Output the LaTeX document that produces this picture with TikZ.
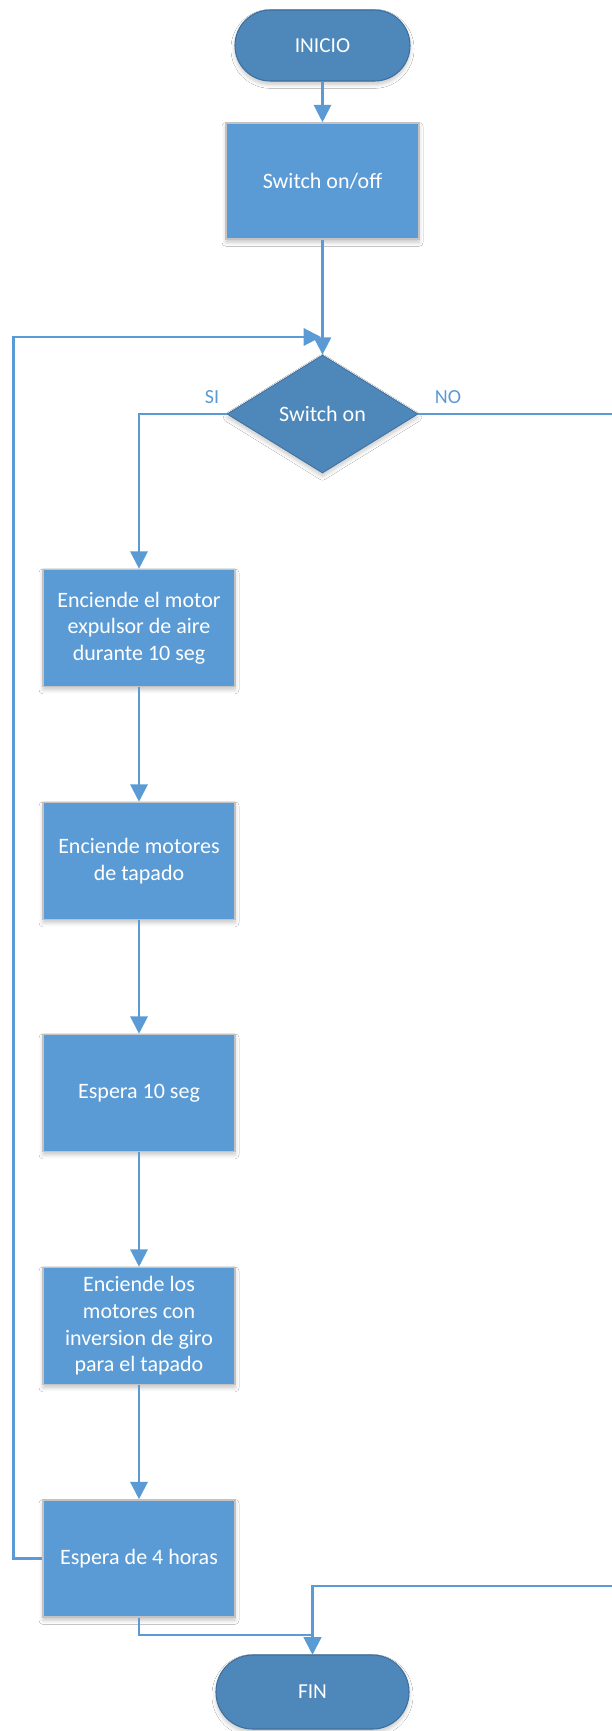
\documentclass[tikz,border=0pt]{standalone}
\usepackage{fontspec}
\setmainfont{Carlito}
\usetikzlibrary{arrows.meta,shapes.geometric,shadows.blur}

\definecolor{termfill}{HTML}{4E87BA}
\definecolor{termline}{HTML}{3E6F9C}
\definecolor{boxfill}{HTML}{5B9BD5}
\definecolor{boxline}{HTML}{C3C3C3}
\definecolor{flow}{HTML}{5B9BD5}

\tikzset{
  softshadow/.style={blur shadow={shadow xshift=0pt,shadow yshift=-2.5pt,
      shadow blur radius=3pt,shadow blur steps=6,shadow opacity=22}},
  terminal/.style={rectangle,rounded corners=26.5pt,fill=termfill,draw=termline,
      line width=0.8pt,text=white,minimum height=53.25pt,inner sep=2pt,
      font=\fontsize{16}{19.5}\selectfont,softshadow},
  process/.style={rectangle,fill=boxfill,draw=boxline,line width=1.2pt,
      text=white,minimum width=144pt,minimum height=87.75pt,inner sep=3pt,
      align=center,font=\fontsize{16.5}{20}\selectfont,softshadow},
  decision/.style={diamond,fill=termfill,draw=termline,line width=0.6pt,
      text=white,minimum width=143.25pt,minimum height=88.5pt,inner sep=0pt,
      font=\fontsize{16.5}{20}\selectfont,softshadow},
  conn/.style={draw=flow,line width=1.6pt,-{Triangle[length=13pt,width=13pt]}},
  branch/.style={text=flow,font=\fontsize{15}{18}\selectfont,inner sep=0pt}
}

\begin{document}
\begin{tikzpicture}[x=0.75pt,y=-0.75pt]
  \useasboundingbox[fill=white] (0,0) rectangle (611,1731);

  % start, switch and decision
  \node[terminal,minimum width=131.25pt] (ini) at (322.5,45.5) {INICIO};
  \node[process,minimum width=144.75pt,minimum height=87pt] (sw) at (322.5,181) {Switch on/off};
  \node[decision] (dec) at (322.5,414) {Switch on};

  % process column
  \node[process] (b1) at (139,628) {Enciende el motor\\expulsor de aire\\durante 10 seg};
  \node[process] (b2) at (139,861) {Enciende motores\\de tapado};
  \node[process] (b3) at (139,1093) {Espera 10 seg};
  \node[process] (b4) at (139,1326) {Enciende los\\motores con\\inversion de giro\\para el tapado};
  \node[process] (b5) at (139,1558.5) {Espera de 4 horas};

  % end
  \node[terminal,minimum width=144.75pt,minimum height=55.5pt,rounded corners=27.5pt] (fin) at (312.5,1692) {FIN};

  % branch labels
  \node[branch] (si) at (212,397) {SI};
  \node[branch] (no) at (448,397) {NO};

  % helper points for routed connectors
  \coordinate (loopTop) at (13.5,337);
  \coordinate (loopIn) at (321,337);
  \coordinate (noRight) at (616,1586);
  \coordinate (finJoin) at (139,1635);

  % connectors
  \draw[conn] (ini) -- (sw);
  \draw[conn] (sw) -- (dec);
  \draw[conn] (dec.west) -| (b1.north);
  \draw[conn] (b1) -- (b2);
  \draw[conn] (b2) -- (b3);
  \draw[conn] (b3) -- (b4);
  \draw[conn] (b4) -- (b5);
  \draw[conn] (b5.west) -| (loopTop) -- (loopIn);
  \draw[conn] (dec.east) -| (noRight) -| (fin.north);
  \draw[conn] (b5) -- (finJoin) -| (fin.north);
\end{tikzpicture}
\end{document}
